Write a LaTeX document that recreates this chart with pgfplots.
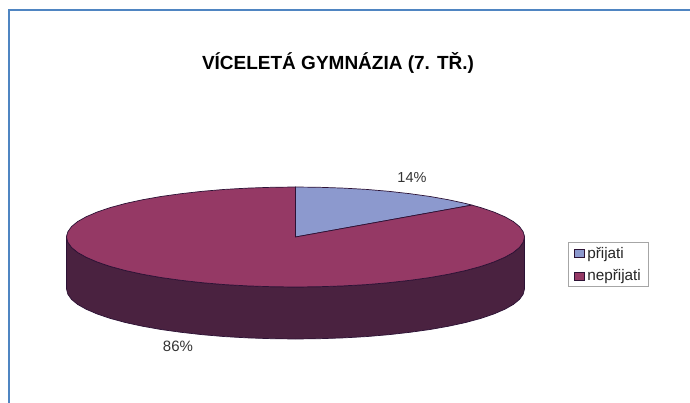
\documentclass[border=0pt]{standalone}
\usepackage{pgfplots}
\usepackage{fontspec}
\setmainfont{Liberation Sans}
\pgfplotsset{compat=1.18}
\definecolor{frameblue}{HTML}{4F85C2}
\definecolor{slicea}{HTML}{8C99CE}
\definecolor{sliceb}{HTML}{953965}
\definecolor{sideb}{HTML}{4A2240}
\definecolor{rim}{HTML}{2C1235}
\begin{document}
\begin{tikzpicture}
\clip (0,0) rectangle (690pt,403pt);
\begin{axis}[
  scale only axis, width=690pt, height=403pt,
  xmin=0, xmax=690, ymin=0, ymax=403, y dir=reverse,
  axis lines=none, clip=false,
  legend style={at={(axis cs:567.5,242.5)}, anchor=north west, draw=black!35,
    line width=1pt, font=\fontsize{15.3}{16}\selectfont, inner xsep=5.5pt, inner ysep=2pt, row sep=6pt,
    text=black!85, cells={anchor=west}},
  legend image code/.code={\draw[#1, line width=0.9pt] (0pt,-4pt) rectangle (10pt,4pt);
    \path (11pt,0pt);},
]
% page frame
\addplot[forget plot, frameblue, line width=1.8pt] coordinates {(9,403) (9,10) (690,10)};
% side wall, seen from the front
\addplot[forget plot, fill=sideb, draw=rim, line width=0.7pt] coordinates {
  (524.5,237) (523.2,242.2) (519.5,247.4) (513.3,252.5) (504.7,257.3) (493.8,262)
  (480.8,266.4) (465.7,270.5) (448.7,274.2) (430.1,277.5) (410,280.3) (388.6,282.7)
  (366.3,284.6) (343.1,285.9) (319.4,286.7) (295.5,287) (271.6,286.7) (247.9,285.9)
  (224.7,284.6) (202.4,282.7) (181,280.3) (160.9,277.5) (142.3,274.2) (125.3,270.5)
  (110.2,266.4) (97.2,262) (86.3,257.3) (77.7,252.5) (71.5,247.4) (67.8,242.2) (66.5,237)
  (66.5,289) (67.8,294.2) (71.5,299.4) (77.7,304.5) (86.3,309.3) (97.2,314) (110.2,318.4)
  (125.3,322.5) (142.3,326.2) (160.9,329.5) (181,332.3) (202.4,334.7) (224.7,336.6)
  (247.9,337.9) (271.6,338.7) (295.5,339) (319.4,338.7) (343.1,337.9) (366.3,336.6)
  (388.6,334.7) (410,332.3) (430.1,329.5) (448.7,326.2) (465.7,322.5) (480.8,318.4)
  (493.8,314) (504.7,309.3) (513.3,304.5) (519.5,299.4) (523.2,294.2) (524.5,289)
} -- cycle;
% 14 %
\addplot[fill=slicea, draw=rim, line width=0.7pt] coordinates {
  (295.5,237) (295.5,187) (319.4,187.3) (343.1,188.1) (366.3,189.4) (388.6,191.3)
  (410,193.7) (430.1,196.5) (448.7,199.8) (465.7,203.5) (471.9,205.1)
} -- cycle;
\addlegendentry{přijati}
% 86 %
\addplot[fill=sliceb, draw=rim, line width=0.7pt] coordinates {
  (295.5,237) (471.9,205.1) (480.8,207.6) (493.8,212) (504.7,216.7) (513.3,221.5)
  (519.5,226.6) (523.2,231.8) (524.5,237) (523.2,242.2) (519.5,247.4) (513.3,252.5)
  (504.7,257.3) (493.8,262) (480.8,266.4) (465.7,270.5) (448.7,274.2) (430.1,277.5)
  (410,280.3) (388.6,282.7) (366.3,284.6) (343.1,285.9) (319.4,286.7) (295.5,287)
  (271.6,286.7) (247.9,285.9) (224.7,284.6) (202.4,282.7) (181,280.3) (160.9,277.5)
  (142.3,274.2) (125.3,270.5) (110.2,266.4) (97.2,262) (86.3,257.3) (77.7,252.5)
  (71.5,247.4) (67.8,242.2) (66.5,237) (67.8,231.8) (71.5,226.6) (77.7,221.5) (86.3,216.7)
  (97.2,212) (110.2,207.6) (125.3,203.5) (142.3,199.8) (160.9,196.5) (181,193.7)
  (202.4,191.3) (224.7,189.4) (247.9,188.1) (271.6,187.3) (295.5,187)
} -- cycle;
\addlegendentry{nepřijati}
\node[font=\fontsize{19}{21}\selectfont\bfseries] at (axis cs:338,63) {VÍCELETÁ GYMNÁZIA (7. TŘ.)};
\node[font=\fontsize{14.5}{16}\selectfont, text=black!80] at (axis cs:412,177.5) {14\%};
\node[font=\fontsize{15}{17}\selectfont, text=black!80] at (axis cs:178,346) {86\%};
\end{axis}
\end{tikzpicture}
\end{document}
